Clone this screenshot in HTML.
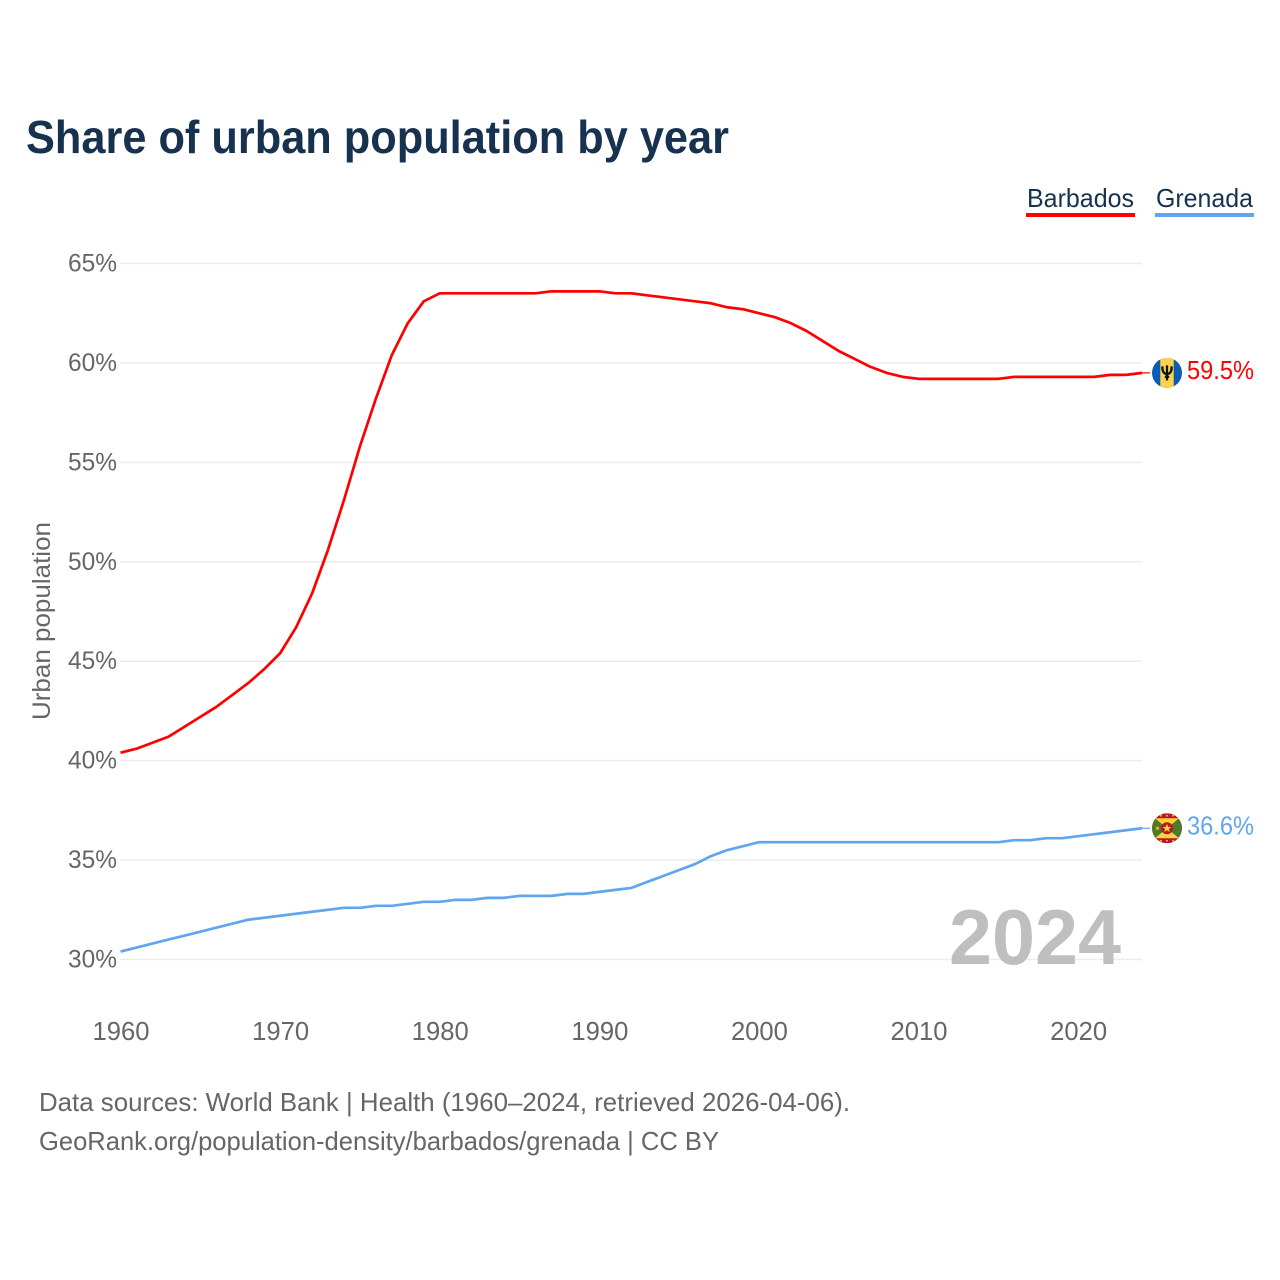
<!DOCTYPE html>
<html lang="en">
<head>
<meta charset="utf-8">
<title>Share of urban population by year</title>
<style>
html,body{margin:0;padding:0;background:#fff;width:1280px;height:1280px;overflow:hidden}
svg{display:block}
text{font-family:"Liberation Sans",sans-serif}
</style>
</head>
<body>
<svg id="chart" width="1280" height="1280" viewBox="0 0 1280 1280" xmlns="http://www.w3.org/2000/svg">
  <defs>
    <clipPath id="clip-bb"><circle cx="0" cy="0" r="15"/></clipPath>
    <clipPath id="clip-gd"><circle cx="0" cy="0" r="15"/></clipPath>
  </defs>
  <text x="26" y="153" font-size="46" font-weight="700" fill="#17324f" textLength="703" lengthAdjust="spacingAndGlyphs">Share of urban population by year</text>

  <g>
    <g>
      <text x="1027" y="207" font-size="26" fill="#17324f" textLength="107" lengthAdjust="spacingAndGlyphs">Barbados</text>
      <rect x="1026" y="213" width="109" height="4" fill="#ff0000"/>
    </g>
    <g>
      <text x="1156" y="207" font-size="26" fill="#17324f" textLength="97" lengthAdjust="spacingAndGlyphs">Grenada</text>
      <rect x="1155" y="213" width="99" height="4" fill="#60a5ee"/>
    </g>
  </g>

  <text transform="translate(50 621) rotate(-90)" text-anchor="middle" font-size="25" fill="#666" textLength="198" lengthAdjust="spacingAndGlyphs">Urban population</text>

  <g id="grid"></g>
  <g id="y-labels"></g>
  <g id="x-labels"></g>

  <text x="1121" y="964" text-anchor="end" font-size="78" font-weight="700" fill="#bfbfbf" textLength="172" lengthAdjust="spacingAndGlyphs">2024</text>

  <g id="series"></g>

  <g id="flag-bb">
    <g clip-path="url(#clip-bb)">
      <rect x="-15" y="-15" width="30" height="30" fill="#0b5cb5"/>
      <rect x="-6.7" y="-15" width="13.4" height="30" fill="#ffd24a"/>
      <path d="M-4.6 -6.5C-4.8 -1.5 -3.2 1.2 0 1.2C3.2 1.2 4.8 -1.5 4.6 -6.5M0 -7.5V7.5M-2.2 4H2.2" fill="none" stroke="#111" stroke-width="2.3"/>
    </g>
  </g>
  <g id="flag-gd">
    <g clip-path="url(#clip-gd)">
      <rect x="-15" y="-15" width="30" height="30" fill="#b5182c"/>
      <path d="M-15 -10H15V10H-15Z" fill="#ffd13a"/>
      <path d="M-15 -10H-12L0 0L-12 10H-15Z" fill="#4f7a2a"/>
      <path d="M15 -10H12L0 0L12 10H15Z" fill="#4f7a2a"/>
      <circle cx="0" cy="0" r="6" fill="#b5182c"/>
      <path d="M0 -4.4L1.2 -1.4L4.4 -1.3L1.9 0.7L2.8 3.7L0 2L-2.8 3.7L-1.9 0.7L-4.4 -1.3L-1.2 -1.4Z" fill="#ffd13a"/>
      <circle cx="-9.5" cy="0" r="1.8" fill="#e2a92a"/>
      <g fill="#ffd13a">
        <circle cx="-6" cy="-12.5" r="0.9"/><circle cx="0" cy="-12.5" r="0.9"/><circle cx="6" cy="-12.5" r="0.9"/>
        <circle cx="-6" cy="12.5" r="0.9"/><circle cx="0" cy="12.5" r="0.9"/><circle cx="6" cy="12.5" r="0.9"/>
      </g>
    </g>
  </g>
  <g id="end-labels"></g>

  <text x="39" y="1111" font-size="26" fill="#666" textLength="811" lengthAdjust="spacingAndGlyphs">Data sources: World Bank | Health (1960–2024, retrieved 2026-04-06).</text>
  <text x="39" y="1150" font-size="26" fill="#666" textLength="680" lengthAdjust="spacingAndGlyphs">GeoRank.org/population-density/barbados/grenada | CC BY</text>
</svg>

<script>
const startYear = 1960;
const endYear = 2024;
const yTickValues = [30, 35, 40, 45, 50, 55, 60, 65];
const yTickLabels = ["30%", "35%", "40%", "45%", "50%", "55%", "60%", "65%"];
const xTickValues = [1960, 1970, 1980, 1990, 2000, 2010, 2020];
const xTickLabels = ["1960", "1970", "1980", "1990", "2000", "2010", "2020"];
const barbadosValues = [
  40.4, 40.6, 40.9, 41.2, 41.7, 42.2, 42.7, 43.3, 43.9, 44.6,
  45.4, 46.7, 48.4, 50.6, 53.1, 55.8, 58.2, 60.4, 62.0, 63.1,
  63.5, 63.5, 63.5, 63.5, 63.5, 63.5, 63.5, 63.6, 63.6, 63.6,
  63.6, 63.5, 63.5, 63.4, 63.3, 63.2, 63.1, 63.0, 62.8, 62.7,
  62.5, 62.3, 62.0, 61.6, 61.1, 60.6, 60.2, 59.8, 59.5, 59.3,
  59.2, 59.2, 59.2, 59.2, 59.2, 59.2, 59.3, 59.3, 59.3, 59.3,
  59.3, 59.3, 59.4, 59.4, 59.5
];
const grenadaValues = [
  30.4, 30.6, 30.8, 31.0, 31.2, 31.4, 31.6, 31.8, 32.0, 32.1,
  32.2, 32.3, 32.4, 32.5, 32.6, 32.6, 32.7, 32.7, 32.8, 32.9,
  32.9, 33.0, 33.0, 33.1, 33.1, 33.2, 33.2, 33.2, 33.3, 33.3,
  33.4, 33.5, 33.6, 33.9, 34.2, 34.5, 34.8, 35.2, 35.5, 35.7,
  35.9, 35.9, 35.9, 35.9, 35.9, 35.9, 35.9, 35.9, 35.9, 35.9,
  35.9, 35.9, 35.9, 35.9, 35.9, 35.9, 36.0, 36.0, 36.1, 36.1,
  36.2, 36.3, 36.4, 36.5, 36.6
];

const NS = 'http://www.w3.org/2000/svg';
function xScale(year) { return 120.5 + (year - startYear) * (1142 - 120.5) / (endYear - startYear); }
function yScale(v) { return 959.5 - (v - 30) * (959.5 - 263.5) / 35; }
function make(tag, parentId, attrs, content) {
  const el = document.createElementNS(NS, tag);
  for (const k in attrs) el.setAttribute(k, attrs[k]);
  if (content !== undefined) el.textContent = content;
  document.getElementById(parentId).appendChild(el);
  return el;
}

yTickValues.forEach(function (v, i) {
  const line = make('line', 'grid', { x1: 120, x2: 1142, y1: yScale(v), y2: yScale(v), stroke: '#ececec', 'stroke-width': 1.5 });
  
  
  const label = make('text', 'y-labels', { x: 117, y: yScale(v) + 8, 'text-anchor': 'end', 'font-size': 25, fill: '#666', textLength: 49, lengthAdjust: 'spacingAndGlyphs' }, yTickLabels[i]);
  
  
});

xTickValues.forEach(function (year, i) {
  const label = make('text', 'x-labels', { x: xScale(year) + 0.5, y: 1040, 'text-anchor': 'middle', 'font-size': 25.6, fill: '#666', textLength: 57, lengthAdjust: 'spacingAndGlyphs' }, xTickLabels[i]);
  
  
});

function pathFor(values) {
  return values.map(function (v, i) {
    return (i ? 'L' : 'M') + xScale(startYear + i).toFixed(2) + ' ' + yScale(v).toFixed(2);
  }).join('');
}

const grenadaLine = make('path', 'series', { d: pathFor(grenadaValues), fill: 'none', stroke: '#60a5ee', 'stroke-width': 2.7, 'stroke-linejoin': 'round' });


const barbadosLine = make('path', 'series', { d: pathFor(barbadosValues), fill: 'none', stroke: '#ff0000', 'stroke-width': 2.7, 'stroke-linejoin': 'round' });



const lastBarbados = barbadosValues[barbadosValues.length - 1];
const lastGrenada = grenadaValues[grenadaValues.length - 1];
const endX = xScale(endYear);

const barbadosLeader = make('line', 'series', { x1: endX, x2: 1150, y1: yScale(lastBarbados), y2: yScale(lastBarbados), stroke: '#ff0000', 'stroke-width': 1.2 });


const grenadaLeader = make('line', 'series', { x1: endX, x2: 1150, y1: yScale(lastGrenada), y2: yScale(lastGrenada), stroke: '#60a5ee', 'stroke-width': 1.2 });



document.getElementById('flag-bb').setAttribute('transform', 'translate(1167 ' + yScale(lastBarbados).toFixed(2) + ')');
document.getElementById('flag-gd').setAttribute('transform', 'translate(1167 ' + yScale(lastGrenada).toFixed(2) + ')');

const barbadosEnd = make('text', 'end-labels', { x: 1187, y: yScale(lastBarbados) + 6, 'font-size': 25.5, fill: '#ff0000', textLength: 67, lengthAdjust: 'spacingAndGlyphs' }, lastBarbados.toFixed(1) + '%');


const grenadaEnd = make('text', 'end-labels', { x: 1187, y: yScale(lastGrenada) + 6, 'font-size': 25.5, fill: '#60a5ee', textLength: 67, lengthAdjust: 'spacingAndGlyphs' }, lastGrenada.toFixed(1) + '%');


</script>
</body>
</html>
